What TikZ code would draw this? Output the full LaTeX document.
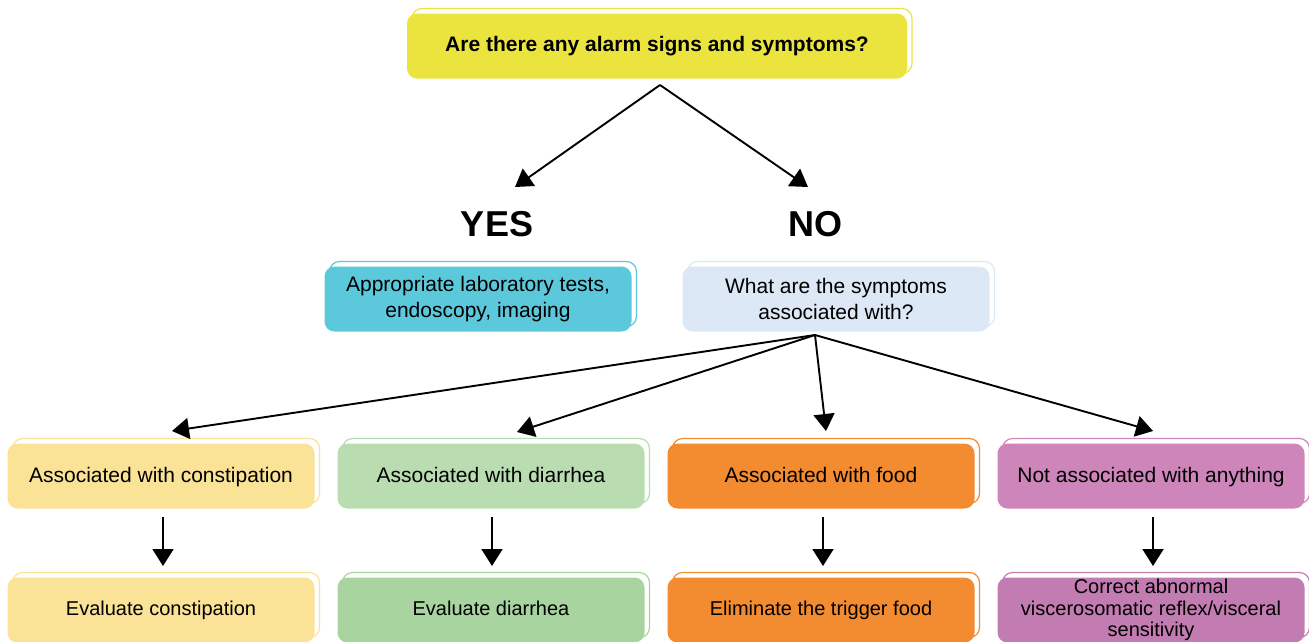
\documentclass[tikz,border=0pt]{standalone}
\usepackage{fontspec}
\setmainfont{Liberation Sans}
\usetikzlibrary{arrows.meta,shadows}
\definecolor{cTop}{HTML}{EBE43F}
\definecolor{cBlue}{HTML}{5BC8DC}
\definecolor{cLBlue}{HTML}{DCE8F5}
\definecolor{cYel}{HTML}{FAE297}
\definecolor{cGrn}{HTML}{B9DDB1}
\definecolor{cGrnB}{HTML}{A8D49F}
\definecolor{cOra}{HTML}{F38B30}
\definecolor{cPnk}{HTML}{CE85BA}
\definecolor{cPnkB}{HTML}{C27CB1}
\tikzset{
  box/.style={rounded corners=10pt, minimum width=307pt, minimum height=65pt, inner sep=2pt,
    align=center, font=\fontsize{21}{26}\selectfont, text=black, fill=#1, draw=none,
    copy shadow={shadow xshift=5pt, shadow yshift=5pt, fill=none, draw=#1, line width=1.2pt}},
  lowbox/.style={box=#1, font=\fontsize{20}{24}\selectfont},
  arr/.style={line width=1.9pt, -{Triangle[width=21pt,length=17pt]}},
  big/.style={font=\fontsize{36}{40}\selectfont\bfseries}
}
\begin{document}
\begin{tikzpicture}[x=1pt,y=-1pt]
\useasboundingbox (0,0) rectangle (1309,641);
\node[box=cTop, minimum width=500pt, minimum height=65pt, font=\fontsize{21}{24}\selectfont\bfseries] (top) at (657,46) {Are there any alarm signs and symptoms?};
\coordinate (topb) at (660,85);
\node[big] (yes) at (497,224) {YES};
\node[big] (no) at (815,224) {NO};
\coordinate (yesT) at (515,187);
\coordinate (noT) at (808,187);
\draw[arr] (topb) -- (yesT);
\draw[arr] (topb) -- (noT);
\node[box=cBlue] (lab) at (478,299) {Appropriate laboratory tests,\\endoscopy, imaging};
\node[box=cLBlue] (what) at (836,299) {What are the symptoms\\associated with?};
\coordinate (wb) at (815,335);
\node[box=cYel, text depth=3pt] (a1) at (161,476) {Associated with constipation};
\node[box=cGrn, text depth=3pt] (a2) at (491,476) {Associated with diarrhea};
\node[box=cOra, text depth=3pt] (a3) at (821,476) {Associated with food};
\node[box=cPnk, text depth=3pt] (a4) at (1151,476) {Not associated with anything};
\draw[arr] (wb) -- (172,431);
\draw[arr] (wb) -- (517,432);
\draw[arr] (wb) -- (826,431);
\draw[arr] (wb) -- (1153,431);
\node[lowbox=cYel, text depth=3pt] (b1) at (161,610) {Evaluate constipation};
\node[lowbox=cGrnB, text depth=3pt] (b2) at (491,610) {Evaluate diarrhea};
\node[lowbox=cOra, text depth=3pt] (b3) at (821,610) {Eliminate the trigger food};
\node[box=cPnkB, inner sep=0pt, font=\fontsize{20}{21.5}\selectfont] (b4) at (1151,610) {Correct abnormal\\viscerosomatic reflex/visceral\\sensitivity};
\coordinate (s1) at (163,517); \coordinate (e1) at (163,566);
\coordinate (s2) at (492,517); \coordinate (e2) at (492,566);
\coordinate (s3) at (823,517); \coordinate (e3) at (823,566);
\coordinate (s4) at (1153,517); \coordinate (e4) at (1153,566);
\draw[arr] (s1) -- (e1);
\draw[arr] (s2) -- (e2);
\draw[arr] (s3) -- (e3);
\draw[arr] (s4) -- (e4);
\end{tikzpicture}
\end{document}
